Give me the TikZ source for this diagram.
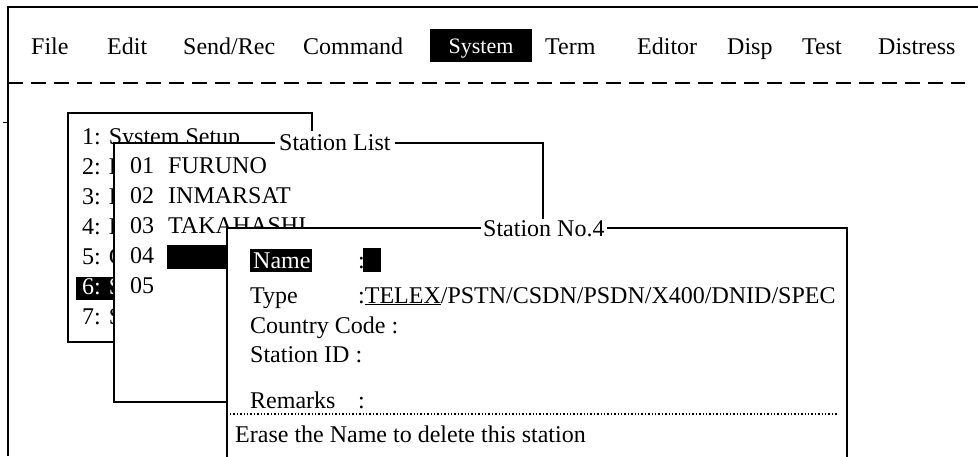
\documentclass[tikz,border=0pt]{standalone}
\usepackage{fontspec}
\setmainfont{Liberation Serif}
\begin{document}
\begin{tikzpicture}[x=1pt,y=-1pt,
  txt/.style={anchor=base west,inner sep=0pt,font=\fontsize{24}{28}\selectfont},
  wtxt/.style={txt,text=white},
  frame/.style={line width=1.6pt},
  box/.style={frame,fill=white},
  ttl/.style={txt,fill=white,inner xsep=4pt,inner ysep=3pt},
  hl/.style={fill=black}]
\useasboundingbox (0,0) rectangle (978,456);
% outer frame
\draw[frame] (978,7) -- (8,7) -- (8,456);
\draw[line width=1pt] (3,122) -- (8,122);
% menu bar
\node[txt] (mfile) at (31,54) {File};
\node[txt] (medit) at (107,54) {Edit};
\node[txt] (msend) at (183,54) {Send/Rec};
\node[txt] (mcmd) at (303,54) {Command};
\fill[hl] (430,29) rectangle (532,62);
\node[txt,anchor=base,text=white,font=\fontsize{22}{28}\selectfont] (msys) at (481,53) {System};
\node[txt] (mterm) at (545,54) {Term};
\node[txt] (medt) at (637,54) {Editor};
\node[txt] (mdisp) at (727,54) {Disp};
\node[txt] (mtest) at (802,54) {Test};
\node[txt] (mdist) at (878,54) {Distress};
\draw[frame,dash pattern=on 15pt off 8pt] (8,83) -- (965,83);
% System menu box
\draw[box] (68,113) rectangle (312,342);
\node[txt] (s1) at (82,144) {1: System Setup};
\node[txt] (s2) at (82,174) {2: L};
\node[txt] (s3) at (82,204) {3: L};
\node[txt] (s4) at (82,234) {4: L};
\node[txt] (s5) at (82,264) {5: G};
\fill[hl] (76,277) rectangle (113,300);
\node[wtxt] (s6) at (82,294) {6: S};
\node[txt] (s7) at (82,324) {7: S};
% Station List box
\draw[box] (114,143) rectangle (543,402);
\node[ttl] (sltitle) at (275,150) {Station List};
\node[txt] (n1) at (130,173) {01};
\node[txt] (f1) at (168,173) {FURUNO};
\node[txt] (n2) at (130,203) {02};
\node[txt] (f2) at (168,203) {INMARSAT};
\node[txt] (n3) at (130,233) {03};
\node[txt] (f3) at (168,233) {TAKAHASHI};
\node[txt] (n4) at (130,263) {04};
\fill[hl] (167,245) rectangle (240,269);
\node[txt] (n5) at (130,293) {05};
% Station No.4 box
\draw[box] (227,480) -- (227,228) -- (847,228) -- (847,480);
\node[ttl,inner xsep=2pt,inner ysep=1pt] (sntitle) at (481,236) {Station No.4};
\fill[hl] (250,249) rectangle (312,272);
\node[wtxt] (lname) at (253,268) {Name};
\node[txt] (cname) at (358,268) {:};
\fill[hl] (363,248) rectangle (381,272);
\node[txt] (ltype) at (250,303) {Type};
\node[txt] (vtype) at (358,303) {:\underline{TELEX}/PSTN/CSDN/PSDN/X400/DNID/SPEC};
\node[txt] (lcc) at (250,333) {Country Code :};
\node[txt] (lsid) at (250,362) {Station ID :};
\node[txt] (lrem) at (250,408) {Remarks};
\node[txt] (crem) at (358,408) {:};
\draw[line width=1.4pt,dotted] (230,414) -- (837,414);
\node[txt] (erase) at (235,442) {Erase the Name to delete this station};
\end{tikzpicture}
\end{document}
